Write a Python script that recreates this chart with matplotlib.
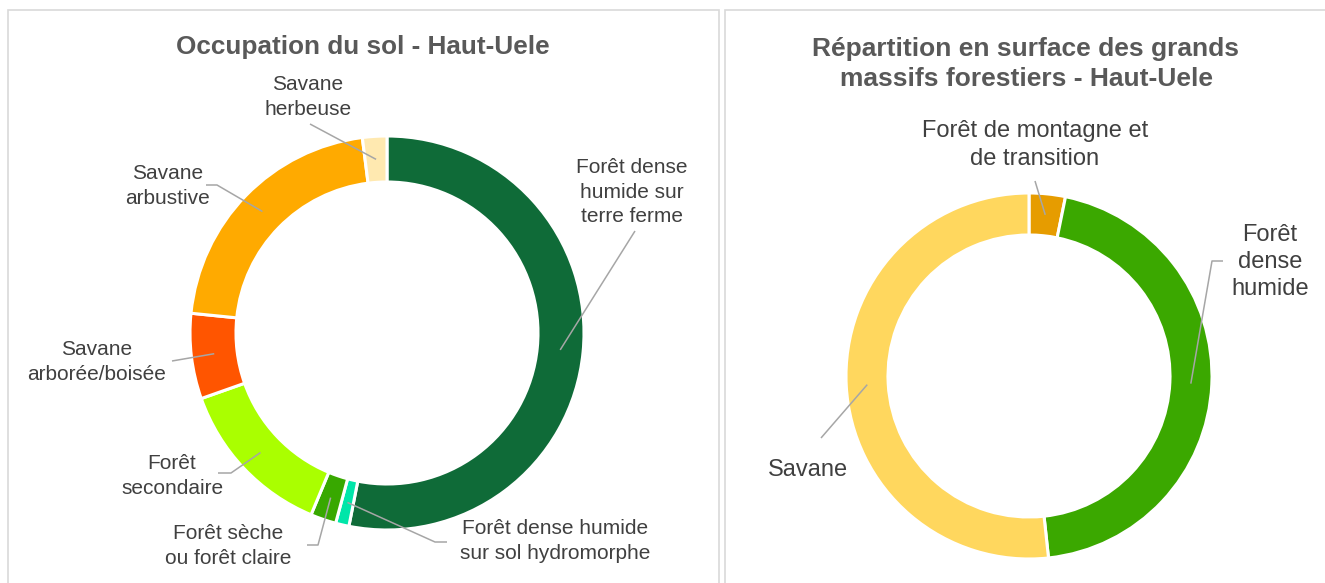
import numpy as np
import matplotlib.pyplot as plt
from matplotlib.patches import Rectangle

plt.rcParams['font.family'] = ['Liberation Sans', 'DejaVu Sans']

# --- données : occupation du sol (%) ---
occ_labels = ["Forêt dense\nhumide sur\nterre ferme",
              "Forêt dense humide\nsur sol hydromorphe",
              "Forêt sèche\nou forêt claire",
              "Forêt\nsecondaire",
              "Savane\narborée/boisée",
              "Savane\narbustive",
              "Savane\nherbeuse"]
occ_values = [53.1, 1.1, 2.1, 13.3, 7.0, 21.4, 2.0]
occ_colors = ["#0F6B38", "#00E6A9", "#38A800", "#AAFF00", "#FF5500", "#FFAA00", "#FFE9B0"]

# --- données : grands massifs forestiers (%) ---
mas_labels = ["Forêt de montagne et\nde transition", "Forêt\ndense\nhumide", "Savane"]
mas_values = [3.2, 45.1, 51.7]
mas_colors = ["#E69C00", "#3BA800", "#FFD75E"]

W, H = 1325, 583
fig = plt.figure(figsize=(W / 100, H / 100), dpi=100)
ax = fig.add_axes([0, 0, 1, 1])

TXT = "#404040"
LINE = "#A6A6A6"

# cadres des deux graphiques
for x0, x1 in [(8, 719), (725, 1330)]:
    fig.patches.append(Rectangle((x0 / W, -0.1), (x1 - x0) / W, 1.1 - 10 / H,
                                 transform=fig.transFigure, fill=False,
                                 edgecolor="#D9D9D9", linewidth=1.2))


def donut(values, colors, center, radius, width):
    wedges, _ = ax.pie(values, colors=colors, startangle=90, counterclock=False,
                       center=center, radius=radius,
                       wedgeprops=dict(width=width, edgecolor="white", linewidth=2.2))
    rmid = radius - width / 2
    pts = []
    for w in wedges:
        a = np.deg2rad((w.theta1 + w.theta2) / 2)
        pts.append((center[0] + rmid * np.cos(a), center[1] + rmid * np.sin(a)))
    return pts


def y(py):
    return H - py


# donut de gauche
pts_l = donut(occ_values, occ_colors, (387, y(333)), 197, 46)
# position du texte, points du trait (hors point d'ancrage sur l'anneau)
lay_l = [((632, 192), [(635, 231)]),
         ((555, 541), [(447, 542), (435, 542)]),
         ((228, 546), [(307, 545), (318, 545)]),
         ((172, 476), [(218, 473), (231, 473)]),
         ((97, 362), [(172, 361)]),
         ((168, 186), [(206, 185), (217, 185)]),
         ((308, 97), [(310, 124)])]
for lab, p, (tp, lp) in zip(occ_labels, pts_l, lay_l):
    xs = [q[0] for q in lp] + [p[0]]
    ys = [y(q[1]) for q in lp] + [p[1]]
    ax.plot(xs, ys, color=LINE, lw=1.1, solid_capstyle="butt")
    ax.text(tp[0], y(tp[1]), lab, ha="center", va="center", fontsize=15,
            color=TXT, linespacing=1.35)

# donut de droite
pts_r = donut(mas_values, mas_colors, (1029, y(376)), 183, 42)
lay_r = [((1035, 145), [(1035, 181)]),
         ((1270, 262), [(1223, 261), (1212, 261)]),
         ((808, 470), [(821, 438)])]
for lab, p, (tp, lp) in zip(mas_labels, pts_r, lay_r):
    xs = [q[0] for q in lp] + [p[0]]
    ys = [y(q[1]) for q in lp] + [p[1]]
    ax.plot(xs, ys, color=LINE, lw=1.1, solid_capstyle="butt")
    ax.text(tp[0], y(tp[1]), lab, ha="center", va="center", fontsize=17,
            color=TXT, linespacing=1.3)

ax.text(363, y(47), "Occupation du sol - Haut-Uele", ha="center", va="center",
        fontsize=18.8, fontweight="bold", color="#595959")
ax.text(1026, y(64), "Répartition en surface des grands\nmassifs forestiers - Haut-Uele",
        ha="center", va="center", fontsize=19, fontweight="bold", color="#595959",
        linespacing=1.33)

ax.set_xlim(0, W)
ax.set_ylim(0, H)
ax.set_aspect("equal")
ax.axis("off")

fig.savefig("out.png", dpi=100)
